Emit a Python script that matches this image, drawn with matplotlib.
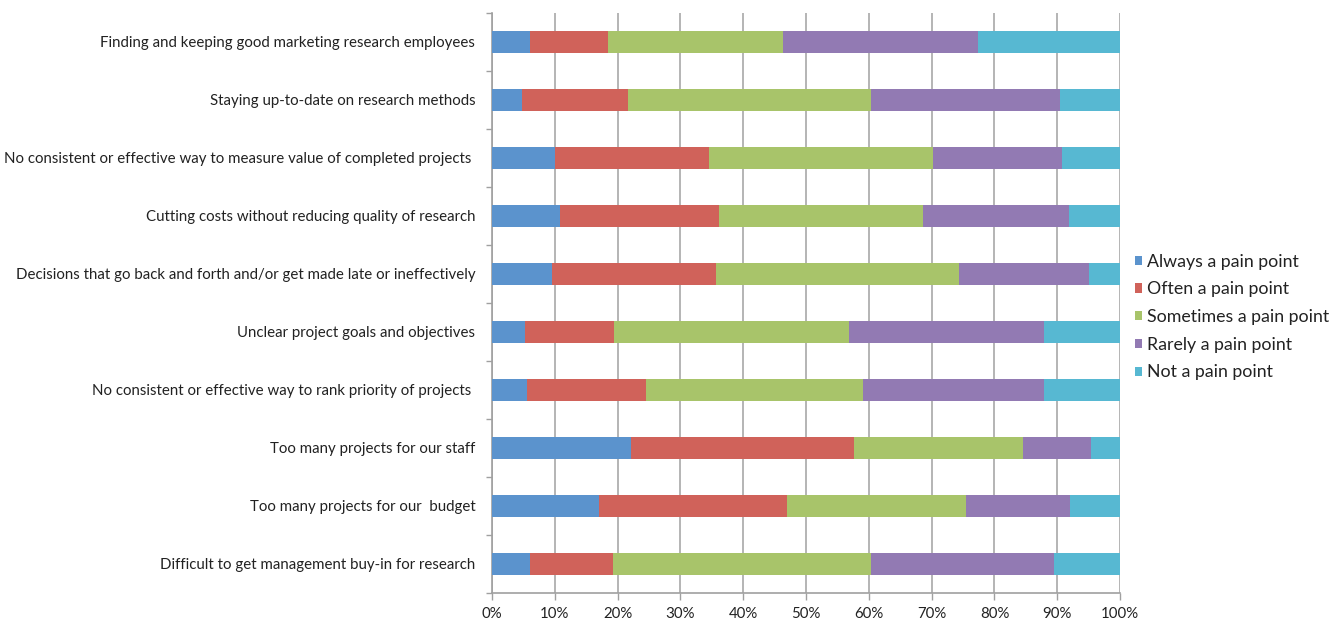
import numpy as np
import matplotlib.pyplot as plt
from matplotlib.ticker import FixedLocator, PercentFormatter

plt.rcParams['font.family'] = ['Lato', 'DejaVu Sans']

# Pain points, listed from top to bottom of the chart
categories = [
    "Finding and keeping good marketing research employees",
    "Staying up-to-date on research methods",
    "No consistent or effective way to measure value of completed projects ",
    "Cutting costs without reducing quality of research",
    "Decisions that go back and forth and/or get made late or ineffectively",
    "Unclear project goals and objectives",
    "No consistent or effective way to rank priority of projects ",
    "Too many projects for our staff",
    "Too many projects for our  budget",
    "Difficult to get management buy-in for research",
]

series = ["Always a pain point", "Often a pain point", "Sometimes a pain point",
          "Rarely a pain point", "Not a pain point"]

# share of respondents (%) per answer
always    = [6.0, 4.8, 10.1, 10.8, 9.6, 5.3, 5.6, 22.1, 17.0, 6.0]
often     = [12.4, 16.8, 24.4, 25.3, 26.0, 14.2, 18.9, 35.5, 29.9, 13.2]
sometimes = [28.0, 38.8, 35.7, 32.6, 38.8, 37.4, 34.6, 26.9, 28.5, 41.2]
rarely    = [31.0, 30.0, 20.6, 23.1, 20.7, 31.0, 28.8, 10.9, 16.6, 29.1]
never     = [22.6, 9.6, 9.2, 8.2, 4.9, 12.1, 12.1, 4.6, 8.0, 10.5]

colors = ["#5b93cd", "#d0625a", "#a8c46a", "#927ab3", "#57b8d2"]

fig = plt.figure(figsize=(13.35, 6.24), dpi=100)
ax = fig.add_axes([0.3685, 0.0497, 0.4705, 0.9295])

y = np.arange(len(categories))
left = np.zeros(len(categories))
for name, vals, c in zip(series, [always, often, sometimes, rarely, never], colors):
    vals = np.array(vals)
    ax.barh(y, vals, left=left, height=0.39, color=c, label=name, zorder=3)
    left += vals

ax.set_xlim(0, 100)
ax.set_ylim(len(categories) - 0.5, -0.5)
ax.set_xticks(np.arange(0, 101, 10))
ax.xaxis.set_major_formatter(PercentFormatter(decimals=0))
ax.grid(axis="x", color="#b4b4b4", linewidth=1.4, zorder=0)

ax.set_yticks(y)
ax.set_yticklabels(categories)
ax.yaxis.set_minor_locator(FixedLocator(np.arange(-0.5, len(categories), 1)))
ax.tick_params(axis="y", which="major", length=0, pad=12)
ax.tick_params(axis="y", which="minor", length=4, color="#a0a0a0", width=1)
ax.tick_params(axis="x", length=5, color="#a0a0a0", width=1, pad=5)
ax.tick_params(labelsize=10.8, labelcolor="#222222")

for side in ["top", "right"]:
    ax.spines[side].set_visible(False)
for side in ["left", "bottom"]:
    ax.spines[side].set_color("#a0a0a0")
    ax.spines[side].set_linewidth(1.2)

leg = fig.legend(loc="center left", bbox_to_anchor=(0.8435, 0.492), frameon=False,
                 fontsize=12.8, handlelength=0.42, handleheight=0.42,
                 handletextpad=0.25, labelspacing=0.66, borderpad=0)
for t in leg.get_texts():
    t.set_color("#222222")

fig.savefig("out.png", dpi=100)
